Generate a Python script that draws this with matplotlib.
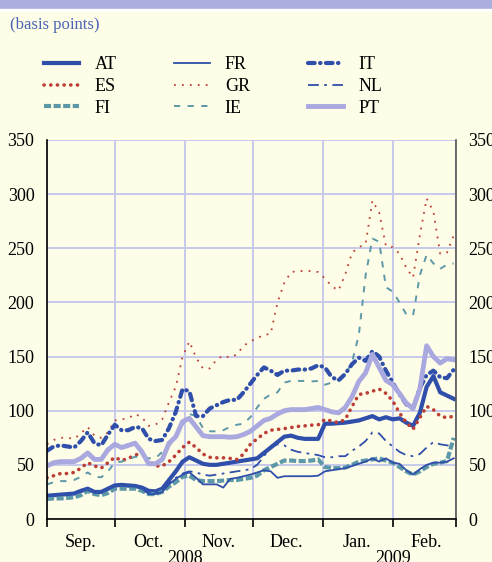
import matplotlib
matplotlib.use('Agg')
import matplotlib.pyplot as plt
import matplotlib.dates as mdates
import matplotlib.transforms as mtransforms
from matplotlib.patches import Rectangle
from matplotlib.ticker import NullFormatter
import pandas as pd

plt.rcParams['font.family'] = ['Liberation Serif', 'DejaVu Serif']

# every third day, 1 Sep 2008 - 28 Feb 2009
dates = pd.date_range('2008-09-01', '2009-02-28', freq='3D')

at = [21.5, 22, 22.5, 23, 23.5, 26, 28, 25, 25, 28,
      31, 31.5, 31, 30.5, 29, 26, 25.5, 28, 36, 44,
      53, 57, 54, 51, 50, 50, 51, 52, 53, 54,
      55, 56, 61, 66, 71, 76, 77, 75, 74, 74,
      74, 88, 88, 88.5, 89, 90, 91, 93, 95, 92,
      94, 92, 93, 89, 86, 98, 122, 132, 117, 114,
      111]
es = [38, 40, 42, 42, 43, 47, 52, 49, 47, 52,
      57, 54, 56, 59, 61, 54, 49, 49, 53, 59,
      66, 71, 66, 60, 57, 56.5, 56.5, 56, 55, 60,
      69, 74, 79, 82, 82.7, 83.5, 84.5, 85.5, 86, 86.7,
      87, 92, 90.5, 89, 92, 104, 115, 116, 118, 120,
      116, 109, 98, 89, 83, 93.5, 104, 101, 95, 93.5,
      95]
fi = [18.5, 19, 19, 19.5, 20, 22, 26, 23, 22, 24,
      28, 28, 28, 28, 26, 23, 23, 25, 30, 34,
      39, 40, 36, 35, 35, 35, 35.5, 36, 36, 37,
      38, 40, 45, 48, 51, 54, 54, 53.5, 53.5, 54,
      55, 48, 47, 47, 47.5, 50, 53, 54, 55, 56,
      54, 52, 48, 44, 41, 44, 48, 51, 52, 53.5,
      75]
fr = [21, 21.5, 22, 22, 23, 25, 27, 24, 24, 27,
      30, 31, 30, 30, 28, 23, 23, 25, 32, 37,
      41, 43, 38, 32, 32, 32, 29, 37, 38, 39.5,
      41, 43, 45, 44, 38, 39.5, 39.5, 39.5, 39.5, 39.5,
      40, 44, 45, 46, 47, 49, 51, 53, 56, 53,
      56, 52, 51, 45, 41, 46, 50, 52, 52, 53,
      56]
gr = [69, 73, 75, 75, 74, 79, 85, 77, 75, 80,
      91, 92, 93, 97, 94, 86, 87, 92, 108, 122,
      150, 164, 149, 139, 139, 147, 151, 149, 152, 160,
      164, 167, 170, 171, 200, 218, 228, 229, 229, 229,
      228, 222, 215, 211, 226, 246, 251, 254, 294, 283,
      252, 251, 245, 232, 223, 262, 296, 284, 245, 246,
      262]
ie = [32, 34, 35, 35, 36, 39, 43, 39, 38.5, 44,
      52, 53, 55, 57.5, 57, 56, 56, 62, 68, 74,
      87, 97, 95, 84, 81, 81, 82, 85, 87, 88,
      94, 103, 111, 115, 117, 126, 127.5, 127.5, 127.5, 127,
      127.5, 124, 126, 129, 133, 145, 170, 225, 259, 256,
      214, 210, 200, 189, 188, 225, 244, 236, 231, 235,
      236]
it = [63, 67, 68, 67, 66, 72, 80, 70, 68, 78,
      87, 82, 82, 85, 84, 74, 72, 73, 84, 99,
      120, 118, 95, 95, 102, 105, 108, 110, 110, 117,
      125, 133, 140, 137, 133, 137, 137, 138, 138, 139,
      142, 140, 131, 128, 134, 143, 149, 146, 155, 150,
      137, 126, 115, 106, 102, 121, 133, 137, 131, 130,
      138]
nl = [21, 22, 22.5, 23, 23.5, 26, 28, 25, 25, 28,
      31, 31, 30.5, 30, 29, 25, 24, 27, 33, 38,
      42, 44, 43, 41, 40, 41, 42, 43, 44, 45,
      46, 50, 58, 66, 69, 68, 64, 62, 61, 60,
      59, 57, 57, 58, 58, 63, 67, 72, 80, 79,
      72, 67, 62, 59, 58, 60, 66, 71, 69, 68,
      67]
pt = [49, 52, 53, 53, 53, 56, 61, 55, 55, 64,
      69, 66, 68, 70, 62, 51, 51, 55, 70, 76,
      90, 93, 85, 77, 76, 76, 76, 75.5, 76, 78,
      81, 86, 91, 93, 97, 100, 101, 101, 101, 102,
      103, 101, 99, 98, 103, 113, 127, 135, 152, 140,
      128, 124, 116, 107, 102, 120, 160, 150, 144, 148,
      147]

blue = '#2F4FAA'
red = '#BC3F35'
teal = '#5C98A8'
lav = '#A9A9E0'
bg = '#FEFDE8'

fig = plt.figure(figsize=(4.92, 5.62), dpi=100, facecolor=bg)
fig.patches.append(Rectangle((0, 1 - 8.5 / 562), 1, 8.5 / 562, transform=fig.transFigure,
                             color='#AAAFE0', zorder=0))
fig.patches.append(Rectangle((0, 1 - 10.5 / 562), 1, 2 / 562, transform=fig.transFigure,
                             color='white', zorder=0))
fig.text(10 / 492, 1 - 25 / 562, '(basis points)', color='#4A64B4', fontsize=12,
         ha='left', va='center')

ax = fig.add_axes([47 / 492, 1 - 519 / 562, (456 - 47) / 492, (519 - 140) / 562])
ax.set_facecolor(bg)

ax.plot(dates, at, color=blue, lw=3, label='AT')
ax.plot(dates, es, color=red, lw=2.6, ls=(0, (0.05, 1.8)), dash_capstyle='round', label='ES')
ax.plot(dates, fi, color=teal, lw=3, ls=(0, (1.7, 0.6)), label='FI')
ax.plot(dates, fr, color=blue, lw=1.3, label='FR')
ax.plot(dates, gr, color=red, lw=1.3, ls=(0, (1, 3.4)), label='GR')
ax.plot(dates, ie, color=teal, lw=1.4, ls=(0, (3.2, 3.8)), label='IE')
ax.plot(dates, it, color=blue, lw=3, ls=(0, (1.6, 1.3, 0.1, 1.3)), dash_capstyle='round',
        label='IT')
ax.plot(dates, nl, color=blue, lw=1.3, ls=(0, (6, 3, 1.5, 3)), label='NL')
ax.plot(dates, pt, color=lav, lw=3.5, label='PT')

ax.set_xlim(pd.Timestamp('2008-09-01'), pd.Timestamp('2009-03-01'))
ax.set_ylim(0, 350)
ax.set_yticks(range(0, 351, 50))
ax.grid(True, which='major', color='#C6C9EC', lw=1.4)
ax.set_axisbelow(True)

ax.xaxis.set_major_locator(mdates.MonthLocator())
ax.xaxis.set_major_formatter(NullFormatter())
ax.xaxis.set_minor_locator(mdates.MonthLocator(bymonthday=16))
ax.xaxis.set_minor_formatter(mdates.DateFormatter('%b.'))
ax.tick_params(axis='x', which='major', length=6, width=1.2, direction='out', color='black')
ax.tick_params(axis='x', which='minor', length=0, pad=11, labelsize=13)
ax.tick_params(axis='y', length=0, labelsize=13, pad=9, labelleft=True, labelright=True)

for side in ['left', 'bottom']:
    ax.spines[side].set_color('black')
    ax.spines[side].set_linewidth(1.2)
ax.spines['right'].set_color('#555555')
ax.spines['right'].set_linewidth(1.2)
ax.spines['top'].set_visible(False)

trans = mtransforms.blended_transform_factory(ax.transData, ax.transAxes)
ax.text(pd.Timestamp('2008-11-01'), -0.082, '2008', transform=trans, ha='center', va='top',
        fontsize=13)
ax.text(pd.Timestamp('2009-02-01'), -0.082, '2009', transform=trans, ha='center', va='top',
        fontsize=13)

fig.legend(loc='upper left', bbox_to_anchor=(44 / 492, 1 - 56 / 562), ncol=3, frameon=False,
           fontsize=13, handlelength=1.95, handletextpad=0.85, columnspacing=3.2,
           labelspacing=0.27, borderpad=0, borderaxespad=0)

fig.savefig('out.png', dpi=100, facecolor=bg)
